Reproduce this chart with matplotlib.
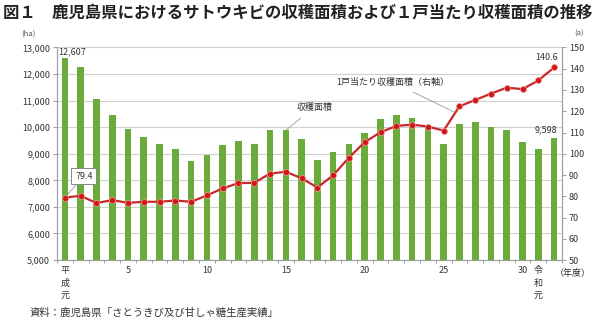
import matplotlib
matplotlib.use("Agg")
import matplotlib.pyplot as plt
from matplotlib.ticker import FuncFormatter

plt.rcParams['font.family'] = ['Noto Sans CJK JP', 'DejaVu Sans']

# 年度 (平成元 .. 令和2)
years = list(range(32))
tick_pos = [0, 4, 9, 14, 19, 24, 29, 30]
tick_labels = ['平\n成\n元', '5', '10', '15', '20', '25', '30', '令\n和\n元']

# 収穫面積 (ha)
area = [12607, 12260, 11076, 10450, 9934, 9632, 9370, 9193, 8729, 8943,
        9331, 9470, 9381, 9885, 9885, 9546, 8755, 9055, 9381, 9772,
        10299, 10475, 10348, 10021, 9381, 10134, 10186, 10021, 9897, 9444,
        9181, 9598]

# 1戸当たり収穫面積 (a)
per_farm = [79.4, 80.2, 76.8, 78.2, 76.9, 77.4, 77.4, 78.0, 77.4, 80.4,
            83.7, 86.2, 86.3, 90.7, 91.5, 88.5, 84.1, 89.9, 98.2, 105.5,
            110.1, 113.1, 113.7, 112.8, 110.9, 122.3, 125.3, 128.3, 131.1, 130.4,
            134.5, 140.6]

fig = plt.figure(figsize=(6, 3.22), dpi=100)
ax = fig.add_axes([0.095, 0.1925, 0.8417, 0.66])
ax2 = ax.twinx()

ax.bar(years, area, width=0.42, color='#6aab3c', zorder=2)
ax.set_ylim(5000, 13000)
ax.set_xlim(-0.5, 31.5)
ax.set_yticks(range(5000, 13001, 1000))
ax.yaxis.set_major_formatter(FuncFormatter(lambda v, p: f'{int(v):,}'))
ax.grid(axis='y', color='#d0d0d0', lw=0.8, zorder=0)
ax.set_axisbelow(True)

ax2.plot(years, per_farm, color='#c8282a', lw=1.6, marker='o', ms=4.4,
         mfc='#d01818', mec='#f0a0a0', mew=0.5, zorder=3)
ax2.set_ylim(50, 150)
ax2.set_yticks(range(50, 151, 10))

# 軸まわり
for a in (ax, ax2):
    a.spines['top'].set_visible(False)
    for s in ('left', 'right', 'bottom'):
        a.spines[s].set_color('#a0a0a0')
        a.spines[s].set_linewidth(0.8)
    a.tick_params(labelsize=6.5, colors='#a0a0a0', labelcolor='#333333',
                  length=3, width=0.7, pad=2)

ax.set_xticks([x + 0.5 for x in range(-1, 32)], minor=True)
ax.set_xticks(tick_pos)
ax.set_xticklabels(tick_labels, fontsize=6.5, va='top', linespacing=1.6)
ax.tick_params(axis='x', which='major', length=0, pad=4)
ax.tick_params(axis='x', which='minor', length=2.5, color='#a0a0a0', width=0.7)

# 数値ラベル
ax.text(years[0] - 0.45, area[0] + 60, f'{area[0]:,}', fontsize=6.5,
        color='#333333', ha='left', va='bottom')
ax.text(years[-1] + 0.2, area[-1] + 120, f'{area[-1]:,}', fontsize=6.5,
        color='#333333', ha='right', va='bottom')
ax2.text(years[-1] + 0.25, per_farm[-1] + 2.6, f'{per_farm[-1]}', fontsize=6.5,
         color='#333333', ha='right', va='bottom')
ax2.annotate(f'{per_farm[0]}', xy=(years[0], per_farm[0]), xytext=(1.2, 89.5),
             fontsize=6.5, color='#333333', ha='center', va='center',
             bbox=dict(boxstyle='square,pad=0.4', fc='white', ec='#888888', lw=0.7),
             arrowprops=dict(arrowstyle='-', color='#999999', lw=0.6,
                             shrinkA=0, shrinkB=2))

# 系列名
ax.annotate('収穫面積', xy=(14, 9885), xytext=(15.8, 10750), fontsize=6.5,
            color='#333333', ha='center', va='center',
            arrowprops=dict(arrowstyle='-', color='#999999', lw=0.6,
                            shrinkA=4, shrinkB=0))
ax2.annotate('1戸当たり収穫面積（右軸）', xy=(24.7, 119.5), xytext=(20.8, 133.6),
             fontsize=6.5, color='#333333', ha='center', va='center',
             arrowprops=dict(arrowstyle='-', color='#999999', lw=0.6,
                             shrinkA=4, shrinkB=0))

# 単位・タイトル・出典
fig.text(0.035, 0.895, '(ha)', fontsize=5.5, color='#555555', ha='left', va='center')
fig.text(0.965, 0.895, '(a)', fontsize=5.5, color='#555555', ha='center', va='center')
fig.text(0.955, 0.152, '（年度）', fontsize=6.5, color='#333333', ha='center', va='center')
fig.text(0.005, 0.962, '図１　鹿児島県におけるサトウキビの収穫面積および１戸当たり収穫面積の推移',
         fontsize=11.8, fontweight='bold', color='#222222', ha='left', va='center')
fig.text(0.05, 0.03, '資料：鹿児島県「さとうきび及び甘しゃ糖生産実績」',
         fontsize=7.5, color='#333333', ha='left', va='center')

fig.savefig('out.png', dpi=100)
